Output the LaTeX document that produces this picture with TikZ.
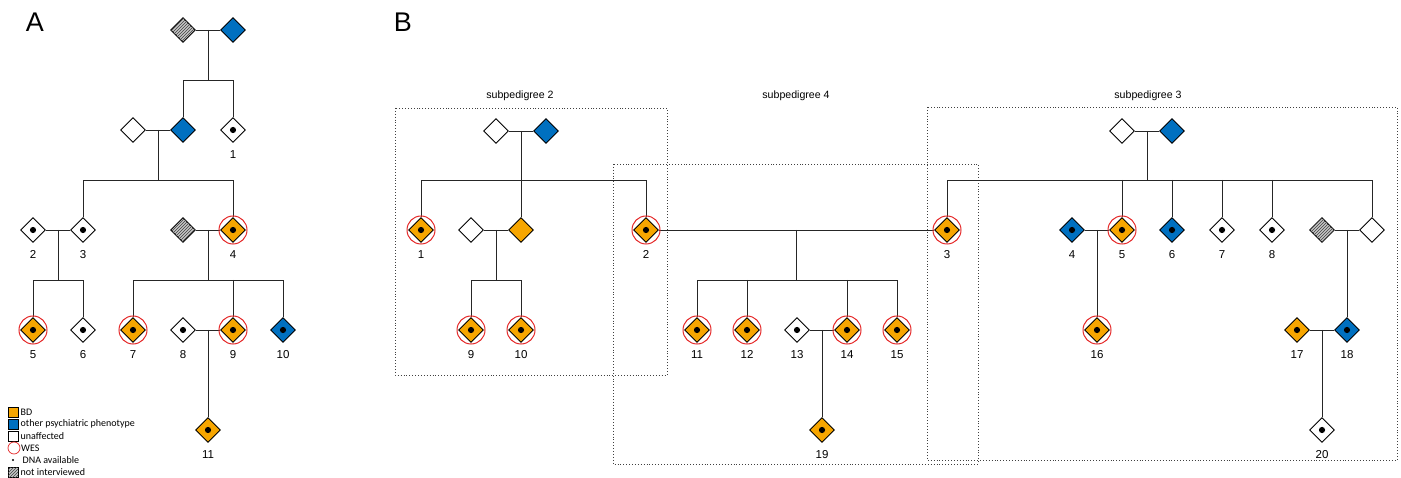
\documentclass[tikz,border=0pt]{standalone}
\usepackage{fontspec}
\setmainfont{Liberation Sans}
\newfontfamily\legfont{Carlito}
\usetikzlibrary{shapes.geometric,patterns,calc}
\definecolor{bdor}{RGB}{247,166,0}
\definecolor{psyb}{RGB}{0,112,192}
\definecolor{wesred}{RGB}{228,40,40}
\begin{document}
\begin{tikzpicture}[x=1pt,y=-1pt,
  person/.style={diamond, draw=black, line width=0.9pt, minimum size=25pt, inner sep=0pt, fill=white},
  bd/.style={person, fill=bdor},
  op/.style={person, fill=psyb},
  un/.style={person, fill=white},
  ni/.style={person, fill=gray!45, postaction={pattern=north east lines, pattern color=black!75}},
  dna/.style={path picture={\fill[black] (path picture bounding box.center) circle (3.1pt);}},
  lbl/.style={font=\fontsize{11.5}{11.5}\selectfont, inner sep=0pt, text height=8.2pt, text depth=0pt},
  every label/.style={lbl},
  label distance=7.5pt,
  wes/.style={draw=wesred, line width=1pt},
  ln/.style={line width=0.9pt, black!85},
  sub/.style={draw=black!75, dotted, line width=0.9pt},
  ttl/.style={font=\fontsize{10.6}{11}\selectfont, inner sep=0pt},
  big/.style={font=\fontsize{27}{27}\selectfont, inner sep=0pt},
  legsq/.style={draw=black, line width=0.6pt, minimum size=10pt, inner sep=0pt},
  legtxt/.style={font=\legfont\fontsize{10}{10}\selectfont, inner sep=0pt, anchor=west}
]
\useasboundingbox (0,0) rectangle (1401,478);

% ---------------- Panel A ----------------
\node[big] (A) at (35,22) {A};

\node[ni] (a1) at (183,30) {};
\node[op] (a2) at (233,30) {};
\node[un] (a3) at (133,130) {};
\node[op] (a4) at (183,130) {};
\node[un,dna,label=below:1] (a5) at (233,130) {};
\node[un,dna,label=below:2] (a6) at (33,230) {};
\node[un,dna,label=below:3] (a7) at (83,230) {};
\node[ni] (a8) at (183,230) {};
\node[bd,dna,label=below:4] (a9) at (233,230) {};
\node[bd,dna,label=below:5] (a10) at (33,330) {};
\node[un,dna,label=below:6] (a11) at (83,330) {};
\node[bd,dna,label=below:7] (a12) at (133,330) {};
\node[un,dna,label=below:8] (a13) at (183,330) {};
\node[bd,dna,label=below:9] (a14) at (233,330) {};
\node[op,dna,label=below:10] (a15) at (283,330) {};
\node[bd,dna,label=below:11] (a16) at (208,430) {};

% marriages and descent
\draw[ln] (a1) -- (a2);
\coordinate (am1) at ($(a1)!0.5!(a2)$);
\coordinate (as1) at (208,80);
\draw[ln] (am1) -- (as1);
\draw[ln] (a4.north) -- (a4.north |- as1) -- (a5.north |- as1) -- (a5.north);

\draw[ln] (a3) -- (a4);
\coordinate (am2) at ($(a3)!0.5!(a4)$);
\coordinate (as2) at (158,180);
\draw[ln] (am2) -- (as2);
\draw[ln] (a7.north) -- (a7.north |- as2) -- (a9.north |- as2) -- (a9.north);

\draw[ln] (a6) -- (a7);
\coordinate (am3) at ($(a6)!0.5!(a7)$);
\coordinate (as3) at (58,280);
\draw[ln] (am3) -- (as3);
\draw[ln] (a10.north) -- (a10.north |- as3) -- (a11.north |- as3) -- (a11.north);

\draw[ln] (a8) -- (a9);
\coordinate (am4) at ($(a8)!0.5!(a9)$);
\coordinate (as4) at (208,280);
\draw[ln] (am4) -- (as4);
\draw[ln] (a12.north) -- (a12.north |- as4) -- (a15.north |- as4) -- (a15.north);
\draw[ln] (a14.north |- as4) -- (a14.north);

\draw[ln] (a13) -- (a14);
\coordinate (am5) at ($(a13)!0.5!(a14)$);
\draw[ln] (am5) -- (a16.north);

\foreach \n in {a9,a10,a12,a14} \draw[wes] (\n.center) circle (14pt);

% legend
\node[legsq, fill=bdor] (l1) at (13,412.5) {};
\node[legtxt] (l1t) at (20.5,412.5) {BD};
\node[legsq, fill=psyb] (l2) at (13,424) {};
\node[legtxt] (l2t) at (20.5,424) {other psychiatric phenotype};
\node[legsq, fill=white] (l3) at (13,436) {};
\node[legtxt] (l3t) at (20.5,436) {unaffected};
\node[draw=wesred, line width=0.7pt, circle, minimum size=12pt, inner sep=0pt] (l4) at (14,448) {};
\node[legtxt] (l4t) at (21,448) {WES};
\node[fill=black, circle, minimum size=2.2pt, inner sep=0pt] (l5) at (13,460) {};
\node[legtxt] (l5t) at (22.5,460) {DNA available};
\node[legsq, fill=gray!45, postaction={pattern=north east lines, pattern color=black!75}] (l6) at (13,472) {};
\node[legtxt] (l6t) at (20.5,472) {not interviewed};

% ---------------- Panel B ----------------
\node[big] (B) at (403,22) {B};

% boxes and titles
\draw[sub] (395,108) rectangle (667,375);
\draw[sub] (613,164) rectangle (978,464);
\draw[sub] (927,107) rectangle (1397,460);
\node[ttl] (t2) at (520,96) {subpedigree 2};
\node[ttl] (t4) at (796,96) {subpedigree 4};
\node[ttl] (t3) at (1148,96) {subpedigree 3};

% subpedigree 2
\node[un] (b1) at (496,131) {};
\node[op] (b2) at (546,131) {};
\node[bd,dna,label=below:1] (b3) at (421,230) {};
\node[un] (b4) at (471,230) {};
\node[bd] (b5) at (521,230) {};
\node[bd,dna,label=below:2] (b6) at (646,230) {};
\node[bd,dna,label=below:9] (b7) at (471,330) {};
\node[bd,dna,label=below:10] (b8) at (521,330) {};

\draw[ln] (b1) -- (b2);
\coordinate (bm1) at ($(b1)!0.5!(b2)$);
\coordinate (bs1) at (521,180);
\draw[ln] (bm1) -- (b5.north);
\draw[ln] (b3.north) -- (b3.north |- bs1) -- (b6.north |- bs1) -- (b6.north);

\draw[ln] (b4) -- (b5);
\coordinate (bm2) at ($(b4)!0.5!(b5)$);
\coordinate (bs2) at (496,280);
\draw[ln] (bm2) -- (bs2);
\draw[ln] (b7.north) -- (b7.north |- bs2) -- (b8.north |- bs2) -- (b8.north);

% subpedigree 4
\node[bd,dna,label=below:3] (b9) at (947,230) {};
\node[bd,dna,label=below:11] (b10) at (697,330) {};
\node[bd,dna,label=below:12] (b11) at (747,330) {};
\node[un,dna,label=below:13] (b12) at (797,330) {};
\node[bd,dna,label=below:14] (b13) at (847,330) {};
\node[bd,dna,label=below:15] (b14) at (897,330) {};
\node[bd,dna,label=below:19] (b15) at (822,430) {};

\draw[ln] (b6) -- (b9);
\coordinate (bm3) at ($(b6)!0.5!(b9)$);
\coordinate (bs3) at ($(bm3)+(0,50)$);
\draw[ln] (bm3) -- (bs3);
\draw[ln] (b10.north) -- (b10.north |- bs3) -- (b14.north |- bs3) -- (b14.north);
\draw[ln] (b11.north |- bs3) -- (b11.north);
\draw[ln] (b13.north |- bs3) -- (b13.north);

\draw[ln] (b12) -- (b13);
\coordinate (bm4) at ($(b12)!0.5!(b13)$);
\draw[ln] (bm4) -- (b15.north);

% subpedigree 3
\node[un] (b16) at (1122,131) {};
\node[op] (b17) at (1172,131) {};
\node[op,dna,label=below:4] (b18) at (1072,230) {};
\node[bd,dna,label=below:5] (b19) at (1122,230) {};
\node[op,dna,label=below:6] (b20) at (1172,230) {};
\node[un,dna,label=below:7] (b21) at (1222,230) {};
\node[un,dna,label=below:8] (b22) at (1272,230) {};
\node[ni] (b23) at (1322,230) {};
\node[un] (b24) at (1372,230) {};
\node[bd,dna,label=below:16] (b25) at (1097,330) {};
\node[bd,dna,label=below:17] (b26) at (1297,330) {};
\node[op,dna,label=below:18] (b27) at (1347,330) {};
\node[un,dna,label=below:20] (b28) at (1322,430) {};

\draw[ln] (b16) -- (b17);
\coordinate (bm5) at ($(b16)!0.5!(b17)$);
\coordinate (bs5) at (1147,180);
\draw[ln] (bm5) -- (bs5);
\draw[ln] (b9.north) -- (b9.north |- bs5) -- (b24.north |- bs5) -- (b24.north);
\foreach \n in {b19,b20,b21,b22} \draw[ln] (\n.north |- bs5) -- (\n.north);

\draw[ln] (b18) -- (b19);
\coordinate (bm6) at ($(b18)!0.5!(b19)$);
\draw[ln] (bm6) -- (b25.north);

\draw[ln] (b23) -- (b24);
\coordinate (bm7) at ($(b23)!0.5!(b24)$);
\draw[ln] (bm7) -- (b27.north);

\draw[ln] (b26) -- (b27);
\coordinate (bm8) at ($(b26)!0.5!(b27)$);
\draw[ln] (bm8) -- (b28.north);

\foreach \n in {b3,b6,b7,b8,b9,b10,b11,b13,b14,b19,b25} \draw[wes] (\n.center) circle (14pt);
\end{tikzpicture}
\end{document}
